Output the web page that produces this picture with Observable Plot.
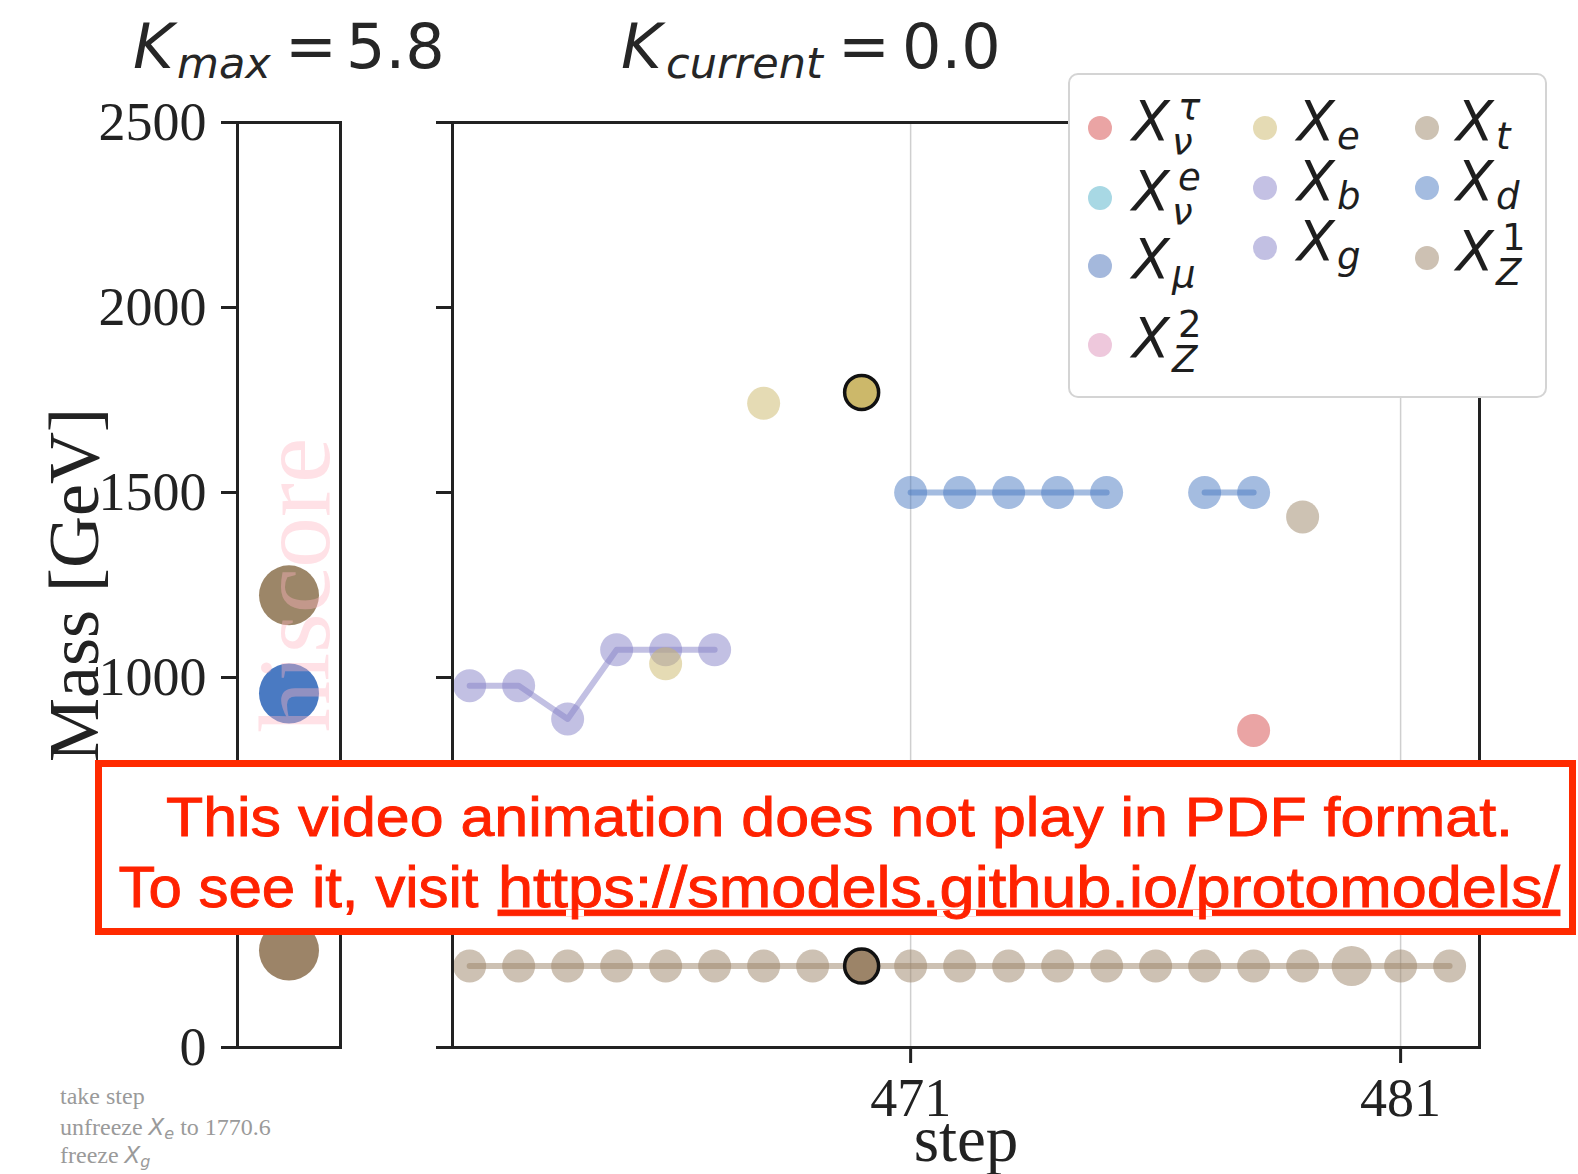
<!DOCTYPE html>
<html><head><meta charset="utf-8">
<script src="https://cdn.jsdelivr.net/npm/d3@7"></script>
<script src="https://cdn.jsdelivr.net/npm/@observablehq/plot@0.6"></script>
<style>
html,body{margin:0;padding:0;background:#fff;}
#wrap{position:relative;width:1578px;height:1174px;overflow:hidden;background:#fff;}
#wrap > svg{position:absolute;left:0;top:0;}
</style></head>
<body><div id="wrap"></div>
<script>
// ---------------- data ----------------
const seriesIds   = ["Xnutau","Xnue","Xmu","XZ2","Xe","Xb","Xg","Xt","Xd","XZ1"];
const seriesSub   = ["ν","ν","μ","Z","e","b","g","t","d","Z"];
const seriesSup   = ["τ","e","","2","","","","","","1"];
const seriesColors= ["#d64a4a","#52b2ca","#4a72ba","#de92ba","#ccb86a","#8a84ca","#8682c8","#9c8668","#4a7ac2","#9c8468"];

const stepsXg = [462, 463, 464, 465, 466, 467];
const massXg  = [978, 978, 888, 1075, 1075, 1075];
const stepsXe = [466, 468];
const massXe  = [1037, 1741];
const stepsXd = [471, 472, 473, 474, 475, 477, 478];
const massXd  = [1500, 1500, 1500, 1500, 1500, 1500, 1500];
const stepsXt = [479];
const massXt  = [1434];
const stepsXnutau = [478];
const massXnutau  = [857];
const stepsXZ1 = [462, 463, 464, 465, 466, 467, 468, 469, 471, 472, 473, 474, 475, 476, 477, 478, 479, 480, 481, 482];
const massXZ1  = [220, 220, 220, 220, 220, 220, 220, 220, 220, 220, 220, 220, 220, 220, 220, 220, 220, 220, 220, 220];

const currentStep   = 470;
const currentSeries = ["Xe", "XZ1"];
const currentMass   = [1770.6, 220];

const bestSeries = ["Xt", "Xd", "XZ1"];
const bestMass   = [1222, 957, 262];

const xTicks = [471, 481];
const yTicks = [0, 500, 1000, 1500, 2000, 2500];
const kMax = "5.8", kCurrent = "0.0";
const watermark = "hiscore";

// ---------------- tables ----------------
const W = 1578, H = 1174;
const history = [];
function addSeries(id, steps, masses){ steps.forEach((s,i)=>history.push({series:id, step:s, mass:masses[i]})); }
addSeries("Xg", stepsXg, massXg);
addSeries("Xe", stepsXe, massXe);
addSeries("Xd", stepsXd, massXd);
addSeries("Xt", stepsXt, massXt);
addSeries("Xnutau", stepsXnutau, massXnutau);
addSeries("XZ1", stepsXZ1, massXZ1);
const current = currentSeries.map((id,i)=>({series:id, step:currentStep, mass:currentMass[i]}));

// line segments: runs of consecutive steps of the same series (incl. current point), 2+ points
const lineRows = [];
for (const id of seriesIds) {
  const pts = history.concat(current).filter(d=>d.series===id).sort((a,b)=>a.step-b.step);
  let seg = 0;
  const rows = [];
  pts.forEach((d,i)=>{ if (i>0 && d.step - pts[i-1].step > 1) seg++; rows.push({...d, seg: id+"-"+seg}); });
  const counts = d3.rollup(rows, v => v.length, d => d.seg);
  rows.filter(d => counts.get(d.seg) > 1).forEach(d => lineRows.push(d));
}
const best = bestSeries.map((id,i)=>({series:id, mass:bestMass[i]}));
const colorScale = {domain: seriesIds, range: seriesColors};

// ---------------- left panel ----------------
const left = Plot.plot({
  width: W, height: H,
  marginLeft: 237, marginRight: W-340, marginTop: 122, marginBottom: H-1047,
  x: {domain: [0,1], axis: null},
  y: {domain: [0,2500]},
  color: colorScale,
  style: {background:"transparent", overflow:"visible", color:"#222", fontFamily:"Liberation Serif", fontSize:"54px"},
  marks: [
    Plot.dot(best, {x: () => 0.5, y: "mass", fill: "series", r: 30, stroke: null}),
    Plot.text([watermark], {frameAnchor:"middle", dx: 40, rotate: -90, lineAnchor: "bottom", textAnchor: "middle", fontSize: 102, fontFamily: "Liberation Serif", fill: "#ffb3c0", fillOpacity: 0.4}),
    Plot.frame({stroke:"#222", strokeWidth: 3}),
    Plot.axisY({ticks: yTicks, tickSize: 16, tickPadding: 15, fontSize: 54, strokeWidth: 3, tickFormat: d => String(d), label: null}),
    Plot.text(["Mass [GeV]"], {frameAnchor:"left", dx: -140, rotate: -90, lineAnchor: "bottom", textAnchor: "middle", fontSize: 72, fontFamily: "Liberation Serif", fill: "#222"})
  ]
});

// ---------------- main panel ----------------
const main = Plot.plot({
  width: W, height: H,
  marginLeft: 452, marginRight: W-1479, marginTop: 122, marginBottom: H-1047,
  x: {domain: [461.65, 482.61]},
  y: {domain: [0,2500]},
  r: {type: "identity"},
  color: colorScale,
  style: {background:"transparent", overflow:"visible", color:"#222", fontFamily:"Liberation Serif", fontSize:"54px"},
  marks: [
    Plot.ruleX(xTicks, {stroke: "#cfcfcf", strokeWidth: 1.5}),
    Plot.line(lineRows, {x: "step", y: "mass", z: "seg", stroke: "series", strokeWidth: 6, strokeOpacity: 0.5}),
    Plot.dot(history, {x: "step", y: "mass", fill: "series", fillOpacity: 0.5, stroke: null, r: d => d.step === 480 && d.series === "XZ1" ? 20 : 16.5}),
    Plot.dot(current, {x: "step", y: "mass", fill: "series", r: 17, stroke: "#111", strokeWidth: 3.5}),
    Plot.frame({stroke:"#222", strokeWidth: 3}),
    Plot.axisY({ticks: yTicks, tickSize: 16, strokeWidth: 3, tickFormat: () => "", label: null}),
    Plot.axisX({ticks: xTicks, tickSize: 16, tickPadding: 14, fontSize: 54, strokeWidth: 3, tickFormat: d => String(d), label: null}),
    Plot.text(["step"], {frameAnchor: "bottom", dy: 113, lineAnchor: "bottom", fontSize: 65, fontFamily: "Liberation Serif", fill: "#222"})
  ]
});

const wrap = document.getElementById("wrap");
wrap.appendChild(left);
wrap.appendChild(main);

// ---------------- overlay: titles, legend, notes, notice ----------------
const ov = d3.create("svg").attr("width", W).attr("height", H).attr("viewBox", `0 0 ${W} ${H}`);

function mathTitle(x, sub, val, subX, eqX, valX) {
  const g = ov.append("g").attr("font-family", "DejaVu Sans").attr("fill", "#262626");
  g.append("text").attr("x", x).attr("y", 68).attr("font-size", 62).attr("font-style", "italic").text("K");
  g.append("text").attr("x", subX).attr("y", 78).attr("font-size", 43).attr("font-style", "italic").text(sub);
  g.append("text").attr("x", eqX).attr("y", 68).attr("font-size", 62).text("=");
  g.append("text").attr("x", valX).attr("y", 68).attr("font-size", 62).text(val);
}
mathTitle(133, "max", kMax, 177, 285, 346);
mathTitle(621, "current", kCurrent, 666, 838, 902);

// legend
ov.append("rect").attr("x", 1069).attr("y", 74).attr("width", 477).attr("height", 323).attr("rx", 9)
  .attr("fill", "#fff").attr("stroke", "#d4d4d4").attr("stroke-width", 2);
const legendCols = [[0,1,2,3],[4,5,6],[7,8,9]];
const colMarkerX = [1100, 1265, 1427];
const colTextX = [1132, 1297, 1456];
const colRowY = [[128,198,266,345],[128,188,248],[128,188,258]];
legendCols.forEach((col, c) => col.forEach((si, r) => {
  const cy = colRowY[c][r], base = cy + 12, tx = colTextX[c];
  ov.append("circle").attr("cx", colMarkerX[c]).attr("cy", cy).attr("r", 12)
    .attr("fill", seriesColors[si]).attr("fill-opacity", 0.5);
  const g = ov.append("g").attr("font-family", "DejaVu Sans").attr("fill", "#1e1e1e");
  g.append("text").attr("x", tx).attr("y", base).attr("font-size", 55).attr("font-style", "italic").text("X");
  const hasSup = seriesSup[si] !== "";
  g.append("text").attr("x", tx + 40).attr("y", base + (hasSup ? 15 : 9)).attr("font-size", 37)
    .attr("font-style", "italic").text(seriesSub[si]);
  if (hasSup) {
    const digit = /\d/.test(seriesSup[si]);
    g.append("text").attr("x", tx + 46).attr("y", base - 20).attr("font-size", 37)
      .attr("font-style", digit ? "normal" : "italic").text(seriesSup[si]);
  }
}));

// step notes (bottom left)
const notes = ov.append("g").attr("font-family", "Liberation Serif").attr("font-size", 24).attr("fill", "#9a9a9a");
notes.append("text").attr("x", 60).attr("y", 1104).text("take step");
const n2 = notes.append("text").attr("x", 60).attr("y", 1135);
n2.append("tspan").text("unfreeze ");
n2.append("tspan").attr("font-family", "DejaVu Sans").attr("font-style", "italic").attr("font-size", 23).text("X");
n2.append("tspan").attr("font-family", "DejaVu Sans").attr("font-style", "italic").attr("font-size", 16).attr("dy", 4).text("e");
n2.append("tspan").attr("dy", -4).text(" to " + currentMass[0]);
const n3 = notes.append("text").attr("x", 60).attr("y", 1163);
n3.append("tspan").text("freeze ");
n3.append("tspan").attr("font-family", "DejaVu Sans").attr("font-style", "italic").attr("font-size", 23).text("X");
n3.append("tspan").attr("font-family", "DejaVu Sans").attr("font-style", "italic").attr("font-size", 16).attr("dy", 4).text("g");

// red notice box
ov.append("rect").attr("x", 98.5).attr("y", 763.5).attr("width", 1474).attr("height", 168)
  .attr("fill", "#fff").attr("stroke", "#ff2a00").attr("stroke-width", 7);
const red = ov.append("g").attr("font-family", "Liberation Sans").attr("fill", "#ff2200")
  .attr("stroke", "#ff2200").attr("stroke-width", 0.9);
red.append("text").attr("x", 166).attr("y", 836).attr("font-size", 56)
  .attr("textLength", 1347).attr("lengthAdjust", "spacingAndGlyphs")
  .text("This video animation does not play in PDF format.");
red.append("text").attr("x", 118.5).attr("y", 907).attr("font-size", 57)
  .attr("textLength", 360).attr("lengthAdjust", "spacingAndGlyphs")
  .text("To see it, visit");
red.append("text").attr("x", 498).attr("y", 907).attr("font-size", 57)
  .attr("textLength", 1062).attr("lengthAdjust", "spacingAndGlyphs")
  .attr("text-decoration", "underline")
  .text("https://smodels.github.io/protomodels/");

wrap.appendChild(ov.node());
</script>
</body></html>
